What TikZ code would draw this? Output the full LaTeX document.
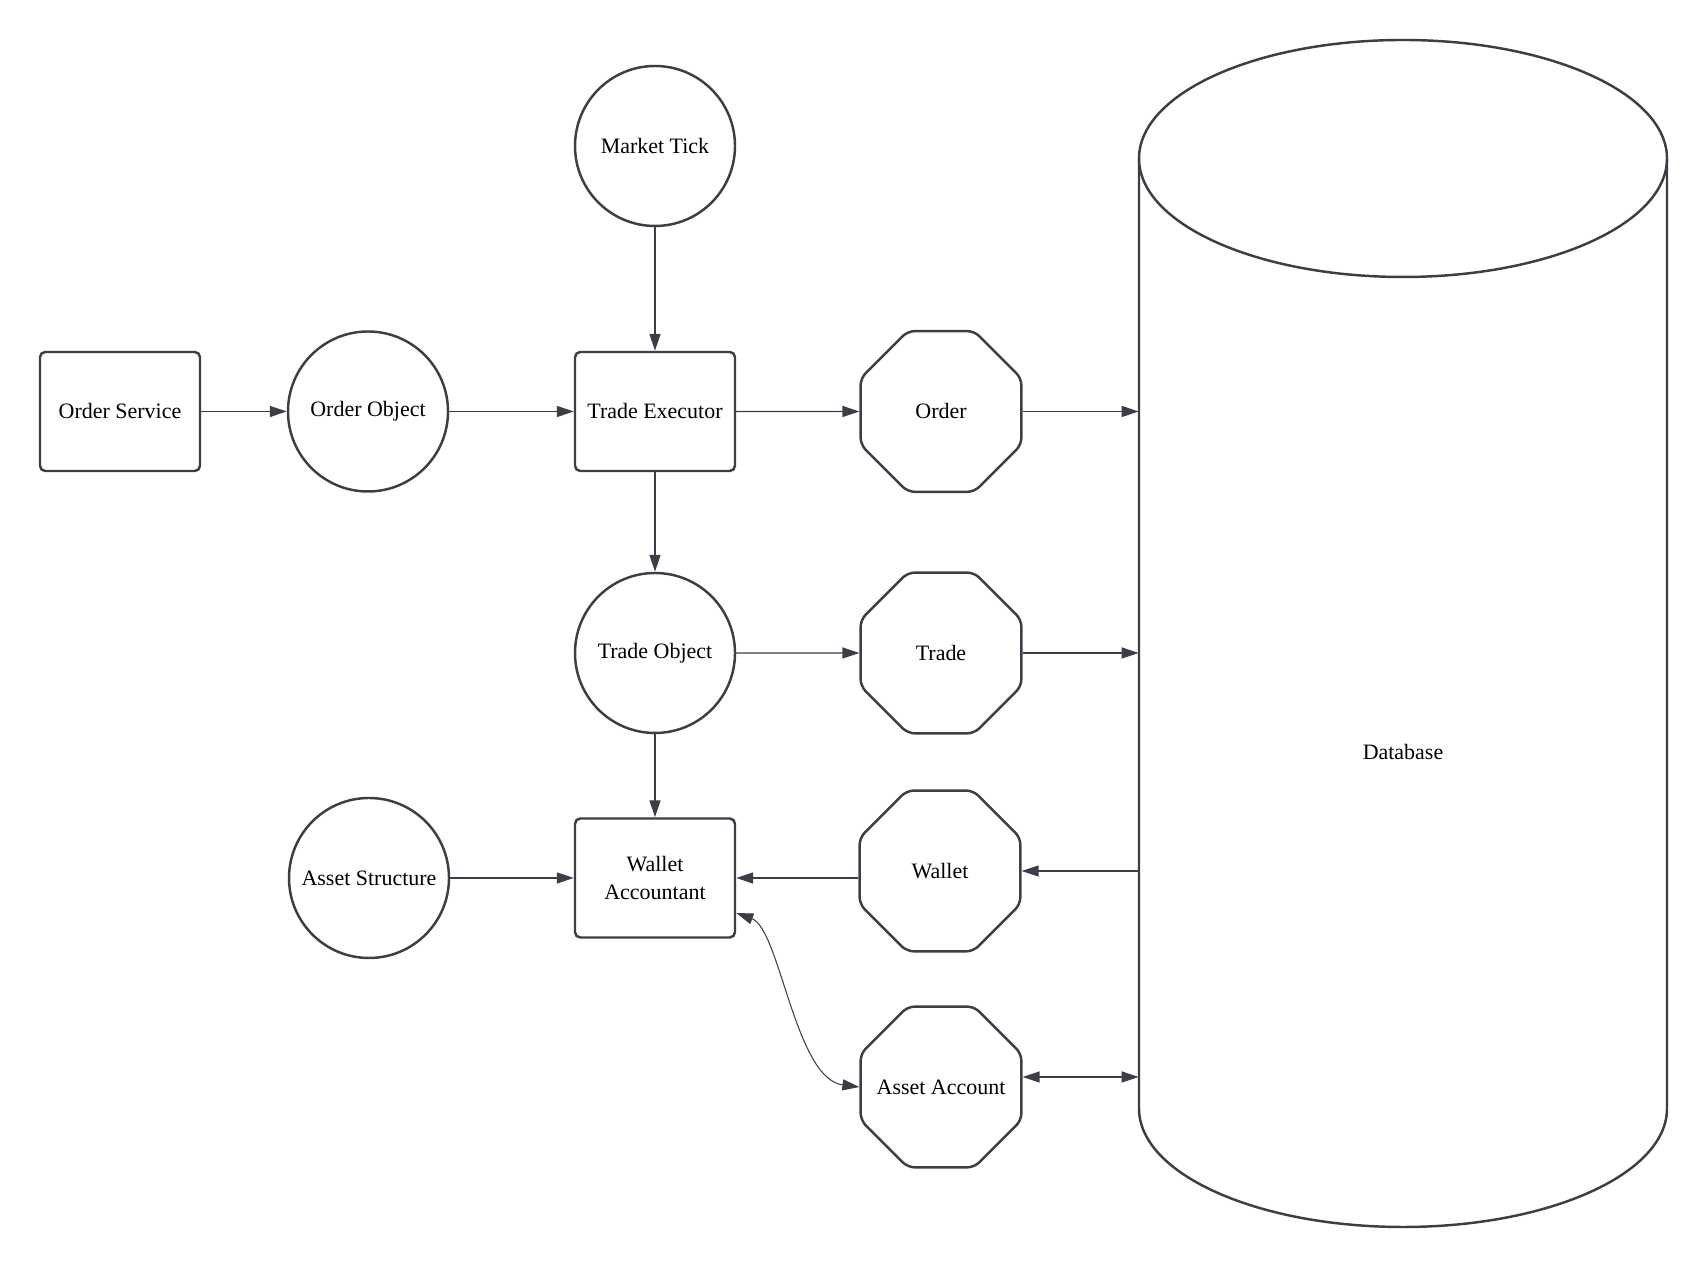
\documentclass[tikz,border=0pt]{standalone}
\usepackage{fontspec}
\setmainfont{Liberation Serif}
\usetikzlibrary{arrows.meta,shapes.geometric}
\definecolor{ink}{HTML}{3B3E46}

\begin{document}
\begin{tikzpicture}[
	font=\fontsize{12.5}{15.4}\selectfont,
	>={Triangle[length=3.4mm,width=2.2mm]},
	box/.style={draw=ink, line width=1.4pt, rounded corners=3pt, minimum width=3.2cm, minimum height=2.38cm, inner sep=1pt, align=center},
	obj/.style={draw=ink, line width=1.4pt, circle, minimum size=3.2cm, inner sep=0pt},
	rec/.style={draw=ink, line width=1.4pt, regular polygon, regular polygon sides=8, minimum size=3.48cm, inner sep=-6mm, rounded corners=4pt},
	link/.style={draw=ink, line width=0.8pt, ->},
	]
	
	\useasboundingbox (0,0) rectangle (34.14,25.38);
	
	\node[box] (service) at (2.4,17.15) {Order Service};
	\node[obj] (orderobj) at (7.36,17.15) {Order Object};
	\node[box] (executor) at (13.1,17.15) {Trade Executor};
	\node[obj] (tick) at (13.1,22.46) {Market Tick};
	\node[rec] (order) at (18.82,17.15) {Order};
	
	\node[obj] (tradeobj) at (13.1,12.32) {Trade Object};
	\node[rec] (trade) at (18.82,12.32) {Trade};
	
	\node[obj] (assetstruct) at (7.38,7.82) {Asset Structure};
	\node[box] (accountant) at (13.1,7.82) {Wallet\\Accountant};
	\node[rec] (wallet) at (18.8,7.96) {Wallet};
	\node[rec] (assetacc) at (18.82,3.64) {Asset Account};
	
	\draw[ink, line width=1.4pt] (28.06,22.21) ellipse [x radius=5.28, y radius=2.37];
	\draw[ink, line width=1.4pt] (22.78,22.21) -- (22.78,3.21) arc[start angle=180, end angle=360, x radius=5.28, y radius=2.37] -- (33.34,22.21);
	\node[minimum width=10.56cm, minimum height=19cm, inner sep=0pt] (db) at (28.06,10.34) {Database};
	
	\draw[link] (service) -- (orderobj);
	\draw[link] (orderobj) -- (executor);
	\draw[link] (tick) -- (executor);
	\draw[link] (executor) -- (order);
	\draw[link] (order.east) -- (order.east -| db.west);
	\draw[link] (executor) -- (tradeobj);
	\draw[link] (tradeobj) -- (trade);
	\draw[link] (trade.east) -- (trade.east -| db.west);
	\draw[link] (tradeobj) -- (accountant);
	\draw[link] (assetstruct) -- (accountant);
	\draw[link] (wallet.west |- accountant) -- (accountant);
	\draw[link] (wallet.east -| db.west) -- (wallet.east);
	\draw[link, <->] ([yshift=2mm]assetacc.east) -- ([yshift=2mm]assetacc.east -| db.west);
	\draw[link, <->, line width=0.6pt] ([yshift=-7mm]accountant.east) .. controls (15.6,6.8) and (15.9,3.8) .. (assetacc.west);
	
\end{tikzpicture}
\end{document}
